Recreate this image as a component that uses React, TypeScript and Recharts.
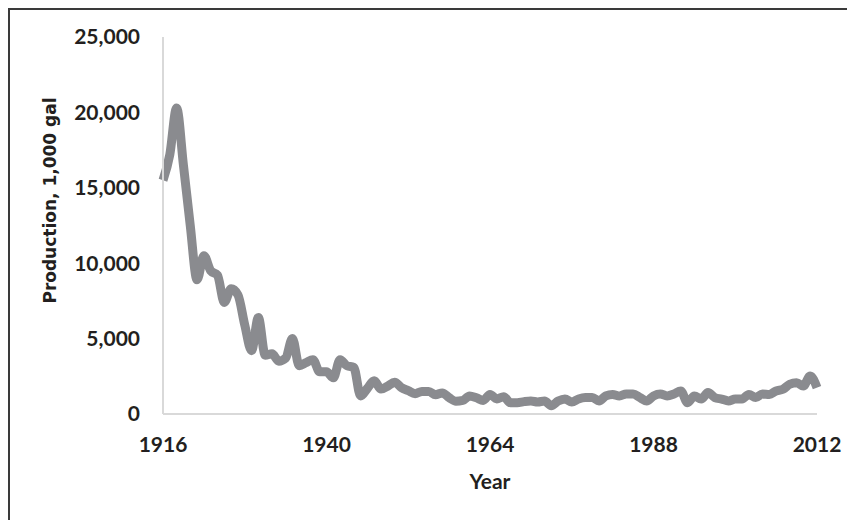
import React from 'react'
import { LineChart, Line, XAxis, YAxis } from 'recharts'

const years = [
	1916, 1917, 1918, 1919, 1920, 1921, 1922, 1923, 1924, 1925, 1926, 1927, 1928, 1929, 1930, 1931,
	1932, 1933, 1934, 1935, 1936, 1937, 1938, 1939, 1940, 1941, 1942, 1943, 1944, 1945, 1946, 1947,
	1948, 1949, 1950, 1951, 1952, 1953, 1954, 1955, 1956, 1957, 1958, 1959, 1960, 1961, 1962, 1963,
	1964, 1965, 1966, 1967, 1968, 1969, 1970, 1971, 1972, 1973, 1974, 1975, 1976, 1977, 1978, 1979,
	1980, 1981, 1982, 1983, 1984, 1985, 1986, 1987, 1988, 1989, 1990, 1991, 1992, 1993, 1994, 1995,
	1996, 1997, 1998, 1999, 2000, 2001, 2002, 2003, 2004, 2005, 2006, 2007, 2008, 2009, 2010, 2011,
	2012,
]

// production, 1,000 gal
const production = [
	15500, 17200, 20300, 16500, 12500, 8900, 10500, 9500, 9200, 7400, 8300, 7900, 5900, 4200, 6400, 3900,
	4000, 3500, 3700, 5000, 3200, 3400, 3600, 2800, 2800, 2400, 3600, 3200, 3100, 1200, 1700, 2200,
	1650, 1850, 2100, 1750, 1550, 1350, 1500, 1500, 1280, 1400, 1080, 850, 900, 1200, 1080, 900,
	1300, 1000, 1150, 750, 750, 820, 860, 800, 860, 550, 860, 1000, 800, 1000, 1090, 1090,
	870, 1200, 1300, 1200, 1330, 1330, 1090, 870, 1200, 1330, 1200, 1330, 1530, 750, 1200, 990,
	1420, 1090, 990, 870, 990, 990, 1300, 1090, 1330, 1300, 1530, 1640, 1970, 2080, 1860, 2520,
	1750,
]

const xTicks = [1916, 1940, 1964, 1988, 2012]
const yTicks = [0, 5000, 10000, 15000, 20000, 25000]

const data = years.map((year, i) => ({ year, value: production[i] }))

const tickStyle = { fontFamily: 'Lato', fontWeight: 700, fontSize: 21, fill: '#231f20' }

const YLabel = ({ viewBox }: any) => {
	const x = viewBox.x + 40
	const y = viewBox.y + viewBox.height / 2 - 25
	return (
		<text
			x={x}
			y={y}
			transform={`rotate(-90, ${x}, ${y})`}
			textAnchor="middle"
			dominantBaseline="central"
			style={{ fontFamily: 'DejaVu Sans', fontWeight: 700, fontSize: 17, fill: '#231f20' }}
		>
			Production, 1,000 gal
		</text>
	)
}

export default function App() {
	return (
		<div style={{ width: 847, height: 512, borderTop: '2px solid #3a3a3a', borderLeft: '2px solid #3a3a3a', background: '#fff' }}>
			<LineChart width={845} height={510} data={data} margin={{ top: 27, right: 38, bottom: 26, left: 0 }}>
				<XAxis
					dataKey="year"
					type="number"
					domain={[1916, 2012]}
					ticks={xTicks}
					height={80}
					tickLine={false}
					tickSize={0}
					tickMargin={23}
					axisLine={{ stroke: '#d9d9d9', strokeWidth: 2 }}
					tick={tickStyle}
					label={{ value: 'Year', position: 'insideBottom', offset: 5, style: tickStyle }}
				/>
				<YAxis
					domain={[0, 25000]}
					ticks={yTicks}
					width={153}
					tickLine={false}
					tickSize={0}
					tickMargin={23}
					axisLine={{ stroke: '#d9d9d9', strokeWidth: 2 }}
					tick={tickStyle}
					tickFormatter={(v: number) => v.toLocaleString('en-US')}
					label={<YLabel />}
				/>
				<Line
					type="monotone"
					dataKey="value"
					stroke="#8a8b8f"
					strokeWidth={9}
					strokeLinejoin="round"
					dot={false}
					activeDot={false}
					isAnimationActive={false}
				/>
			</LineChart>
		</div>
	)
}
